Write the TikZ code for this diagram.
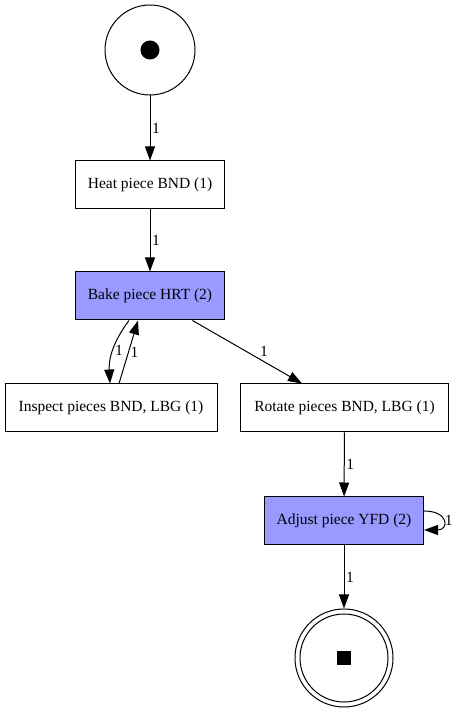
\documentclass[tikz,border=0pt]{standalone}
\usepackage{fontspec}
\setmainfont{Liberation Serif}
\usetikzlibrary{arrows.meta}
\definecolor{activeblue}{RGB}{153,153,255}

\begin{document}
\begin{tikzpicture}[x=1pt,y=1pt,line width=1pt,>={Triangle[length=14pt,width=10pt]}]
	\def \rowstart{662}
	\def \rowheat{527}
	\def \rowbake{416}
	\def \rowsplit{304}
	\def \rowadjust{191}
	\def \basement{54}
	\tikzstyle{t-node}=[draw,rectangle,minimum height=48pt,inner sep=0pt,font=\fontsize{15.5}{18}\selectfont]
	\tikzstyle{b-node}=[t-node,fill=activeblue]
	\tikzstyle{p-node}=[draw,circle,inner sep=0pt]
	\tikzstyle{annot}=[font=\fontsize{15.5}{18}\selectfont,inner sep=1.5pt]
	\useasboundingbox (0,0) rectangle (461,712);

	% places
	\node[p-node,minimum size=90pt] 	(start)	at (150,\rowstart)	{};
	\node[p-node,fill,minimum size=18pt] 	(tok)	at (start)	{};
	\node[p-node,minimum size=98pt] 	(end)	at (344,\basement)	{};
	\node[p-node,minimum size=88pt] 	(endin)	at (end)	{};
	\node[fill,minimum size=14pt,inner sep=0pt] 	(fin)	at (end)	{};

	% transitions
	\node[t-node,minimum width=149pt] 	(heat)	at (150,\rowheat)		{Heat piece BND (1)};
	\node[b-node,minimum width=149pt] 	(bake)	at (150,\rowbake)		{Bake piece HRT (2)};
	\node[t-node,minimum width=212pt] 	(insp)	at (111,\rowsplit)		{Inspect pieces BND, LBG (1)};
	\node[t-node,minimum width=208pt] 	(rot)	at (344.5,\rowsplit)	{Rotate pieces BND, LBG (1)};
	\node[b-node,minimum width=159pt] 	(adj)	at (344,\rowadjust)	{Adjust piece YFD (2)};

	\path[->]
		(start)	edge	node[annot,right]	{1}	(heat)
		(heat)	edge	node[annot,right]	{1}	(bake)
		([xshift=-21pt]bake.south)	edge[bend right=20]	node[annot,right]	{1}	([xshift=-1pt]insp.north)
		([xshift=8pt]insp.north)	edge	node[annot,right]	{1}	([xshift=-12pt]bake.south)
		(bake)	edge	node[annot,pos=0.6,above right]	{1}	(rot)
		%
		(rot)	edge	node[annot,right]	{1}	(adj)
		([yshift=10pt]adj.east)	edge[out=0,in=0,looseness=3.4]	node[annot,right]	{1}	([yshift=-9pt]adj.east)
		(adj)	edge	node[annot,right]	{1}	(end);
\end{tikzpicture}
\end{document}
